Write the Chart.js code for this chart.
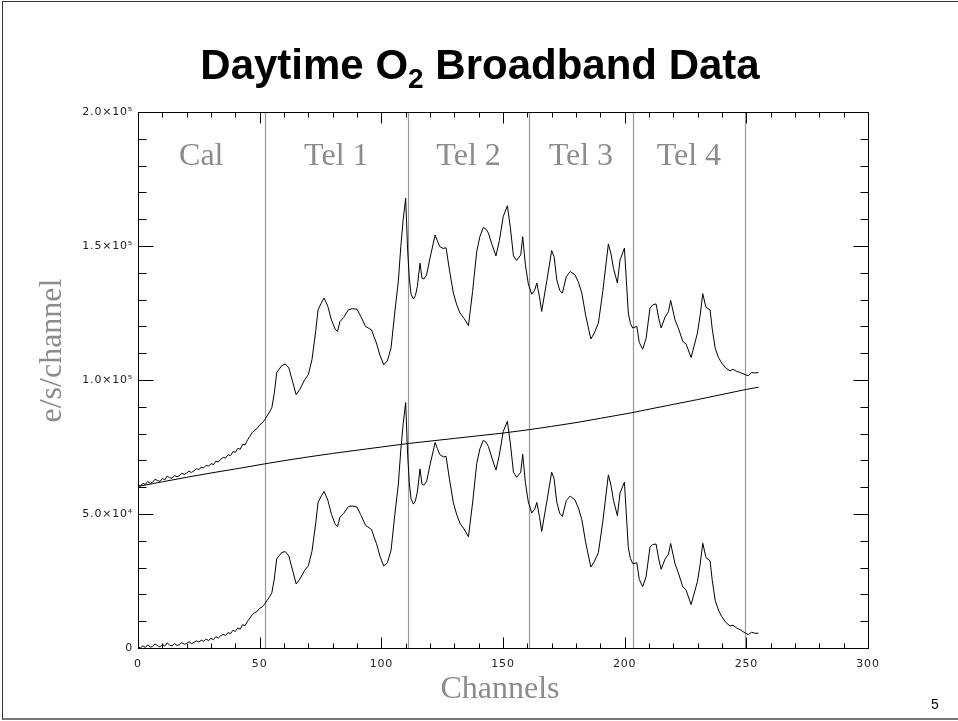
<!DOCTYPE html>
<html>
<head>
<meta charset="utf-8">
<script src="https://cdn.jsdelivr.net/npm/chart.js@4.4.1/dist/chart.umd.min.js"></script>
<style>
  body { margin: 0; background: #fff; }
  #slide { position: relative; width: 958px; height: 721px; overflow: hidden; }
  #frame { position: absolute; left: 2px; top: 1px; width: 980px; height: 719px; box-sizing: border-box;
           border-left: 1px solid #333; border-top: 1px solid #333; border-bottom: 2px solid #777; }
  #title { position: absolute; left: 0; top: 44px; width: 960px; text-align: center;
           font: bold 42px "Liberation Sans", Arial, sans-serif; line-height: 42px; color: #000; }
  #title sub { font-size: 28px; vertical-align: -9px; line-height: 0; }
  #page { position: absolute; left: 931px; top: 697px; font: 14px "Liberation Sans", Arial, sans-serif; line-height: 14px; }
  canvas { position: absolute; left: 0; top: 0; }
</style>
</head>
<body>
<div id="slide">
  <div id="frame"></div>
  <canvas id="spec" width="958" height="721"></canvas>
  <div id="title">Daytime O<sub>2</sub> Broadband Data</div>
  <div id="page">5</div>
</div>
<script>
// channel numbers shared by the raw and the baseline-subtracted spectrum
const channels = [
  0, 1, 2, 3, 4, 5, 6, 7, 8, 9, 10, 11, 12, 13, 14, 15, 16, 17, 18, 19, 20, 21, 22, 23, 24, 25,
  26, 27, 28, 29, 30, 31, 32, 33, 34, 35, 36, 37, 38, 39, 40, 41, 42, 43, 44, 45, 46, 47, 48, 49, 50, 51,
  52, 53, 54, 55, 56, 57, 58, 59, 60.5, 62, 63.5, 65, 66.5, 68.5, 70, 71.5, 73, 74, 75.5, 76.5, 78, 79.5,
  81, 82, 83, 84.5, 86.5, 88, 90, 91.5, 93.5, 95, 96, 97, 98, 99.5, 101, 102.5, 104, 105.5, 107, 108,
  109, 110, 110.8, 111.5, 112.2, 113.2, 114, 114.8, 115.9, 116.7, 117.5, 118.6, 120, 122.1, 123, 124,
  125.5, 126.6, 128, 129.6, 131, 132.3, 134, 135.8, 137.5, 139.2, 140.5, 141.9, 143, 144, 145.5, 147.1,
  148.5, 150.1, 151.8, 153, 154.3, 155.6, 157.3, 158.1, 159.2, 160.4, 161.8, 163, 163.9, 165, 165.9,
  168, 170, 171, 172.1, 173.3, 174.4, 176, 177.6, 179.6, 181, 182.4, 184, 186.1, 187.5, 189.2, 191,
  193.3, 194.4, 195.4, 197, 198.1, 199.9, 200.7, 201.5, 202.4, 203.3, 205, 206, 207.4, 208.8, 210.4,
  211.5, 212.9, 214, 215, 216.6, 218, 218.9, 220.7, 222, 223.9, 225.2, 227.3, 229.9, 231, 232.1, 233.4,
  235.1, 236, 237.2, 238.5, 239.9, 241.5, 243.3, 244.5, 246.1, 247.5, 249.5, 250.8, 252.2, 253.5, 255
];

// raw counts (e/s/channel)
const rawCounts = [
  60800, 60460, 61430, 60990, 62150, 61420, 61880, 62940, 62500, 62170, 63230, 62790, 64160, 63520,
  63380, 64350, 63910, 64270, 65230, 64800, 65260, 66020, 65490, 66150, 66910, 66580, 67440, 67200,
  68160, 67830, 68790, 68450, 69720, 69380, 70440, 71100, 70870, 72130, 71790, 73260, 73020, 74480,
  74150, 76010, 75770, 77640, 79000, 80460, 81320, 81990, 83250, 83910,
  85000, 86500, 88000, 89700, 95000, 102700, 104000, 105300, 106000, 104500, 99500, 94500, 96500,
  100100, 102000, 107600, 118000, 126200, 129000, 130600, 127500, 122400, 119000, 118100, 121800,
  123300, 126200, 126600, 126400, 123800, 120000, 119200, 118700, 116000, 113800, 109000, 105700,
  107200, 112000, 125000, 137000, 149800, 160000, 167800, 148600, 138000, 132000, 130200, 131500,
  134900, 143600, 138000, 137700, 139200, 145500, 154100, 152000, 149800, 149000, 149400, 141000,
  132400, 128000, 125000, 123000, 120300, 133000, 147900, 153500, 156900, 156300, 154800, 150500,
  146300, 152000, 161000, 165000, 157000, 146300, 144600, 146700, 153500, 143000, 135900, 132000,
  133500, 136200, 131000, 125600, 137000, 148300, 146000, 137400, 133500, 132400, 138500, 140500,
  139200, 136500, 132400, 124000, 115300, 117500, 121200, 133000, 150800, 147000, 141700, 136200,
  144800, 149200, 137000, 125000, 121000, 119400, 120000, 114000, 111500, 115500, 126800, 128000,
  128400, 123000, 119400, 123500, 125500, 129700, 122400, 119500, 114400, 113500, 108400, 117500,
  124000, 132200, 127100, 126200, 119000, 111900, 108500, 106300, 104500, 103400, 104000, 103200,
  102800, 102000, 101600, 102800, 102600, 102800
];

// counts after the baseline fit is removed
const netCounts = [
  500, 0, 800, 200, 1200, 300, 600, 1500, 900, 400, 1300, 700, 1900, 1100, 800, 1600, 1000, 1200,
  2000, 1400, 1700, 2300, 1600, 2100, 2700, 2200, 2900, 2500, 3300, 2800, 3600, 3100, 4200, 3700,
  4600, 5100, 4700, 5800, 5300, 6600, 6200, 7500, 7000, 8700, 8300, 10000, 11200, 12500, 13200,
  13700, 14800, 15300,
  16300, 17700, 19000, 20600, 25700, 33300, 34400, 35600, 36000, 34300, 29100, 23900, 25700, 29000,
  30700, 36100, 46300, 54400, 57000, 58400, 55200, 49900, 46300, 45300, 48800, 50200, 52800, 53000,
  52600, 49800, 45800, 44800, 44200, 41400, 39000, 34100, 30600, 31900, 36500, 49400, 61200, 73900,
  83900, 91600, 72300, 61700, 55600, 53700, 54900, 58200, 66800, 61100, 60800, 62100, 68300, 76700,
  74500, 72200, 71300, 71500, 63000, 54200, 49700, 46600, 44400, 41500, 54100, 68800, 74300, 77500,
  76800, 75200, 70800, 66400, 72000, 80800, 84600, 76500, 65600, 63700, 65600, 72300, 61700, 54500,
  50400, 51700, 54300, 49000, 43500, 54600, 65600, 63200, 54400, 50300, 49100, 55000, 56700, 55200,
  52200, 47900, 39300, 30200, 32200, 35600, 47100, 64600, 60600, 55100, 49400, 57800, 61900, 49600,
  37400, 33300, 31500, 31800, 25600, 22900, 26600, 37600, 38600, 38800, 33200, 29400, 33200, 35000,
  39000, 31400, 28200, 22800, 21700, 16200, 24800, 31100, 39100, 33800, 32500, 25200, 17800, 14200,
  11700, 9600, 8200, 8500, 7400, 6800, 5600, 5000, 5900, 5500, 5500
];

// baseline fit
const fitChannels = [0, 10, 20, 30, 40, 52, 60, 70, 80, 90, 100, 111, 120, 130, 140, 150, 161,
  170, 180, 190, 203, 210, 220, 230, 240, 250, 255];
const fitCounts = [60300, 62000, 63700, 65300, 66800, 68700, 69900, 71300, 72600, 73800, 75000,
  76300, 77200, 78200, 79200, 80200, 81500, 82700, 84100, 85700, 87800, 89100, 90900, 92700,
  94600, 96500, 97300];

// detector sections
const sectionNames = ['Cal', 'Tel 1', 'Tel 2', 'Tel 3', 'Tel 4'];
const sectionEdges = [0, 52, 111, 160.7, 203.3, 249.5];

// axes
const xTickValues = [0, 50, 100, 150, 200, 250, 300];
const yTickValues = [0, 50000, 100000, 150000, 200000];
const yTickLabels = ['0', '5.0\u00d710\u2074', '1.0\u00d710\u2075', '1.5\u00d710\u2075', '2.0\u00d710\u2075'];
const xMinorStep = 10;
const yMinorStep = 10000;

const toPoints = (xs, ys) => xs.map((x, i) => ({ x: x, y: ys[i] }));

const greyText = '#8c8c8c';
const serif = '"Liberation Serif", "Times New Roman", serif';

// IDL-style frame: box with inward ticks on every side, section markers, axis titles
const idlFrame = {
  id: 'idlFrame',
  beforeDraw(chart) {
    chart.ctx.letterSpacing = '0.8px';
  },
  beforeDatasetsDraw(chart) {
    const ctx = chart.ctx;
    const a = chart.chartArea;
    const xs = chart.scales.x;
    ctx.save();
    ctx.letterSpacing = '0px';
    ctx.strokeStyle = '#999';
    ctx.lineWidth = 1.2;
    for (let i = 1; i < sectionEdges.length; i++) {
      const px = Math.round(xs.getPixelForValue(sectionEdges[i])) + 0.5;
      ctx.beginPath();
      ctx.moveTo(px, a.top);
      ctx.lineTo(px, a.bottom);
      ctx.stroke();
    }
    ctx.fillStyle = greyText;
    ctx.font = '32px ' + serif;
    ctx.textAlign = 'center';
    ctx.textBaseline = 'alphabetic';
    sectionNames.forEach((name, i) => {
      const mid = (xs.getPixelForValue(sectionEdges[i]) + xs.getPixelForValue(sectionEdges[i + 1])) / 2;
      ctx.fillText(name, mid, 165);
    });
    ctx.restore();
  },
  afterDraw(chart) {
    const ctx = chart.ctx;
    const a = chart.chartArea;
    const xs = chart.scales.x;
    const ys = chart.scales.y;
    ctx.save();
    ctx.letterSpacing = '0px';
    ctx.strokeStyle = '#000';
    ctx.lineWidth = 1;
    const L = Math.round(a.left) + 0.5, R = Math.round(a.right) + 0.5;
    const T = Math.round(a.top) + 0.5, B = Math.round(a.bottom) + 0.5;
    ctx.strokeRect(L, T, R - L, B - T);
    ctx.beginPath();
    for (let v = xs.min; v <= xs.max; v += xMinorStep) {
      const px = Math.round(xs.getPixelForValue(v)) + 0.5;
      const len = xTickValues.includes(v) ? 11 : 5;
      ctx.moveTo(px, B); ctx.lineTo(px, B - len);
      ctx.moveTo(px, T); ctx.lineTo(px, T + len);
    }
    for (let v = ys.min; v <= ys.max; v += yMinorStep) {
      const py = Math.round(ys.getPixelForValue(v)) + 0.5;
      const len = yTickValues.includes(v) ? 15 : 8;
      ctx.moveTo(L, py); ctx.lineTo(L + len, py);
      ctx.moveTo(R, py); ctx.lineTo(R - len, py);
    }
    ctx.stroke();

    ctx.fillStyle = greyText;
    ctx.font = '32px ' + serif;
    ctx.textAlign = 'center';
    ctx.textBaseline = 'alphabetic';
    ctx.fillText('Channels', (a.left + a.right) / 2 - 3, 698);
    ctx.translate(61, a.top + (a.bottom - a.top) * 0.445);
    ctx.rotate(-Math.PI / 2);
    ctx.fillText('e/s/channel', 0, 0);
    ctx.restore();
  }
};

const lineStyle = { borderColor: '#000', borderWidth: 1, pointRadius: 0, fill: false, tension: 0 };

new Chart(document.getElementById('spec'), {
  type: 'line',
  data: {
    datasets: [
      Object.assign({ label: 'raw', data: toPoints(channels, rawCounts) }, lineStyle),
      Object.assign({ label: 'net', data: toPoints(channels, netCounts) }, lineStyle),
      Object.assign({ label: 'fit', data: toPoints(fitChannels, fitCounts) }, lineStyle)
    ]
  },
  options: {
    responsive: false,
    animation: false,
    devicePixelRatio: 1,
    layout: { padding: { top: 112, right: 90, left: 0, bottom: 0 } },
    plugins: { legend: { display: false }, tooltip: { enabled: false } },
    scales: {
      x: {
        type: 'linear', min: 0, max: 300,
        grid: { display: false, drawTicks: false },
        border: { display: false },
        ticks: {
          stepSize: 50, padding: 10, maxRotation: 0, color: '#222',
          font: { family: '"DejaVu Sans"', size: 11 }
        },
        afterFit(s) { s.height = 73; }
      },
      y: {
        type: 'linear', min: 0, max: 200000,
        grid: { display: false, drawTicks: false },
        border: { display: false },
        ticks: {
          stepSize: 50000, padding: 5, color: '#222',
          font: { family: '"DejaVu Sans"', size: 11 },
          callback: (v) => yTickLabels[yTickValues.indexOf(v)]
        },
        afterFit(s) { s.width = 138; }
      }
    }
  },
  plugins: [idlFrame]
});
</script>
</body>
</html>
